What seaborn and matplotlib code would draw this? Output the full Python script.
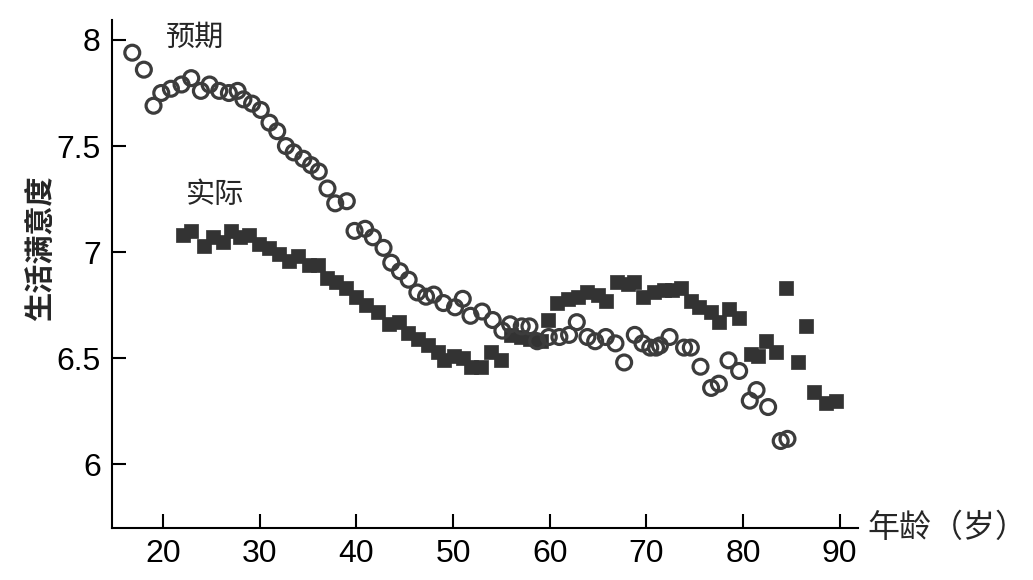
import matplotlib
matplotlib.use("Agg")
import matplotlib.pyplot as plt
import seaborn as sns
import pandas as pd

# 预期 (expected) series
expected_age = [16.8, 18.0, 19.0, 19.8, 20.8, 21.9, 22.9, 23.9, 24.8, 25.8, 26.8, 27.7,
                28.3, 29.2, 30.1, 31.0, 31.8, 32.7, 33.5, 34.5, 35.3, 36.1, 37.0, 37.8,
                39.0, 39.8, 40.9, 41.7, 42.8, 43.6, 44.5, 45.4, 46.3, 47.2, 48.0, 49.0,
                50.2, 51.0, 51.8, 53.0, 54.1, 55.1, 55.9, 57.1, 57.9, 58.7, 59.9, 61.0,
                62.0, 62.8, 63.9, 64.7, 65.8, 66.8, 67.7, 68.8, 69.6, 70.4, 71.0, 71.4,
                72.4, 73.9, 74.6, 75.6, 76.7, 77.5, 78.5, 79.6, 80.7, 81.4, 82.6, 83.9, 84.6]
expected_val = [7.94, 7.86, 7.69, 7.75, 7.77, 7.79, 7.82, 7.76, 7.79, 7.76, 7.75, 7.76,
                7.72, 7.70, 7.67, 7.61, 7.57, 7.50, 7.47, 7.44, 7.41, 7.38, 7.30, 7.23,
                7.24, 7.10, 7.11, 7.07, 7.02, 6.95, 6.91, 6.87, 6.81, 6.79, 6.80, 6.76,
                6.74, 6.78, 6.70, 6.72, 6.68, 6.63, 6.66, 6.65, 6.65, 6.58, 6.60, 6.60,
                6.61, 6.67, 6.60, 6.58, 6.60, 6.57, 6.48, 6.61, 6.57, 6.55, 6.55, 6.56,
                6.60, 6.55, 6.55, 6.46, 6.36, 6.38, 6.49, 6.44, 6.30, 6.35, 6.27, 6.11, 6.12]

# 实际 (actual) series
actual_age = [22.1, 22.9, 24.2, 25.2, 26.2, 27.0, 27.9, 28.9, 29.9, 31.0, 32.0, 33.0,
              34.0, 35.1, 36.0, 36.9, 37.9, 38.9, 40.0, 41.0, 42.2, 43.4, 44.4, 45.3,
              46.4, 47.4, 48.4, 49.1, 50.1, 51.0, 51.9, 52.9, 53.9, 55.0, 56.0, 57.0,
              58.0, 59.1, 59.8, 60.8, 61.9, 62.9, 63.9, 65.0, 65.8, 67.0, 68.1, 68.7,
              69.6, 70.8, 71.8, 72.6, 73.6, 74.6, 75.4, 76.7, 77.5, 78.5, 79.6, 80.8,
              81.5, 82.4, 83.4, 84.4, 85.7, 86.5, 87.3, 88.6, 89.6]
actual_val = [7.08, 7.10, 7.03, 7.07, 7.05, 7.10, 7.07, 7.08, 7.04, 7.02, 6.99, 6.96,
              6.98, 6.94, 6.94, 6.88, 6.86, 6.83, 6.79, 6.75, 6.72, 6.66, 6.67, 6.62,
              6.59, 6.56, 6.53, 6.49, 6.51, 6.50, 6.46, 6.46, 6.53, 6.49, 6.61, 6.60,
              6.59, 6.58, 6.68, 6.76, 6.78, 6.79, 6.81, 6.80, 6.77, 6.86, 6.85, 6.86,
              6.79, 6.81, 6.82, 6.82, 6.83, 6.77, 6.74, 6.72, 6.67, 6.73, 6.69, 6.52,
              6.51, 6.58, 6.53, 6.83, 6.48, 6.65, 6.34, 6.29, 6.30]

x_ticks = [20, 30, 40, 50, 60, 70, 80, 90]
y_ticks = [6, 6.5, 7, 7.5, 8]
y_tick_labels = ["6", "6.5", "7", "7.5", "8"]

sns.set_theme(style="white")
plt.rcParams['font.family'] = ['Liberation Sans', 'Noto Sans CJK SC', 'DejaVu Sans']
cjk = ['Noto Sans CJK SC', 'DejaVu Sans']

fig = plt.figure(figsize=(10.33, 5.80), dpi=100)
ax = fig.add_axes([0.1084, 0.0897, 0.7222, 0.8758])

df_exp = pd.DataFrame({"age": expected_age, "val": expected_val})
df_act = pd.DataFrame({"age": actual_age, "val": actual_val})

sns.scatterplot(data=df_act, x="age", y="val", ax=ax, marker="s", s=100,
                color="#333333", edgecolor="#333333", linewidth=0.5, zorder=2)
sns.scatterplot(data=df_exp, x="age", y="val", ax=ax, marker="o", s=115,
                facecolor="none", edgecolor="#3c3c3c", linewidth=2.3, zorder=3)

ax.set_xlim(14.7, 91.9)
ax.set_ylim(5.70, 8.094)
ax.set_xticks(x_ticks)
ax.set_yticks(y_ticks)
ax.set_yticklabels(y_tick_labels)
ax.tick_params(axis="both", direction="in", length=10, width=1.5, colors="black",
               labelsize=23, pad=8, bottom=True, left=True)

for side in ["top", "right"]:
    ax.spines[side].set_visible(False)
for side in ["left", "bottom"]:
    ax.spines[side].set_color("black")
    ax.spines[side].set_linewidth(1.5)

ax.set_xlabel("")
ax.set_ylabel("生活满意度", fontsize=21, fontweight="bold", family=cjk)
ax.yaxis.set_label_coords(-0.076, 0.55)

ax.text(1.013, 0.0, "年龄（岁）", transform=ax.transAxes, ha="left", va="center",
        fontsize=23, family=cjk)
ax.text(23.3, 8.01, "预期", ha="center", va="center", fontsize=21, family=cjk)
ax.text(25.4, 7.27, "实际", ha="center", va="center", fontsize=21, family=cjk)

fig.savefig("out.png", dpi=100)
